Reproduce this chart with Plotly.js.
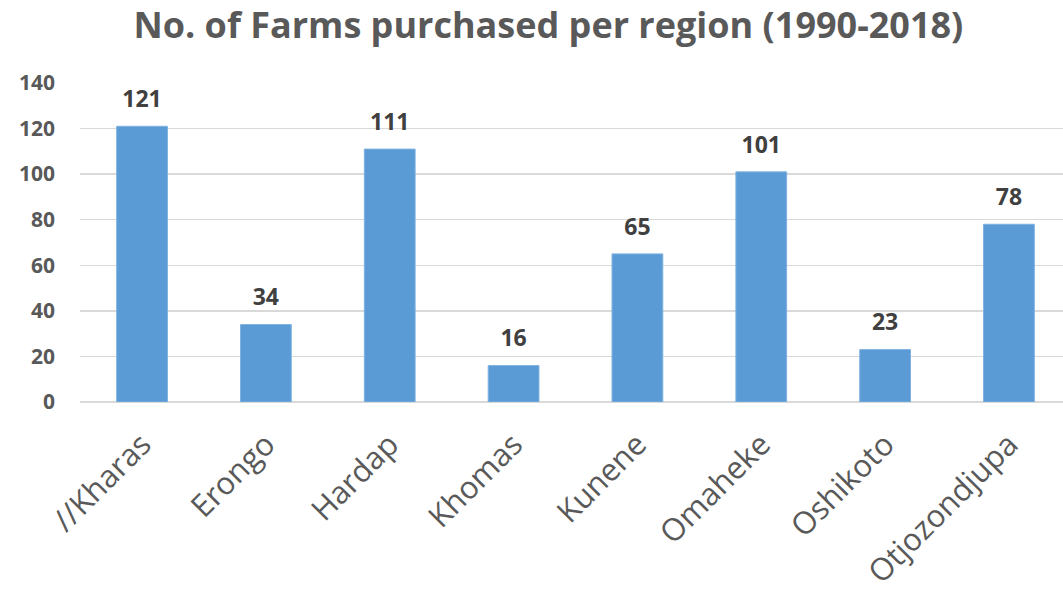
<!DOCTYPE html>
<html>
<head>
<meta charset="utf-8">
<script src="https://cdn.plot.ly/plotly-3.0.1.min.js"></script>
<style>
  html, body { margin: 0; padding: 0; overflow: hidden; background: #fff; }
  #chart { width: 1071px; height: 593px; }
</style>
</head>
<body>
<div id="chart"></div>
<script>
var regions = ['//Kharas', 'Erongo', 'Hardap', 'Khomas', 'Kunene', 'Omaheke', 'Oshikoto', 'Otjozondjupa'];
var farms = [121, 34, 111, 16, 65, 101, 23, 78];

var font = '"Open Sans", "DejaVu Sans", sans-serif';

var bars = {
    type: 'bar',
    x: regions,
    y: farms,
    marker: { color: '#5b9bd5', line: { color: '#7fb2e0', width: 1 } },
    hoverinfo: 'x+y'
};

// labels sit a bit above each bar, like the spreadsheet version
var labels = {
    type: 'scatter',
    mode: 'markers+text',
    x: regions,
    y: farms,
    text: farms.map(String),
    textposition: 'top center',
    marker: { size: 20, opacity: 0 },
    textfont: { family: font, size: 23, color: '#404040', weight: 'bold' },
    cliponaxis: false,
    hoverinfo: 'skip'
};

var layout = {
    width: 1071,
    height: 593,
    margin: { l: 80, r: 0, t: 83, b: 191 },
    showlegend: false,
    bargap: 0.59,
    paper_bgcolor: '#fff',
    plot_bgcolor: '#fff',
    title: {
        text: '<b>No. of Farms purchased per region (1990-2018)</b>',
        font: { family: font, size: 36, color: '#595959' },
        x: 0.512,
        xanchor: 'center',
        y: 0.958,
        yanchor: 'middle'
    },
    xaxis: {
        tickangle: -45,
        tickfont: { family: font, size: 31, color: '#595959' },
        showgrid: false,
        showline: false,
        ticks: '',
        ticklabelstandoff: 17
    },
    yaxis: {
        range: [0, 140],
        dtick: 20,
        tickfont: { family: font, size: 21, color: '#595959', weight: 'bold' },
        gridcolor: '#d9d9d9',
        gridwidth: 1.5,
        zeroline: true,
        zerolinecolor: '#d9d9d9',
        zerolinewidth: 1.5,
        ticks: '',
        ticklabelstandoff: 24
    }
};

Plotly.newPlot('chart', [bars, labels], layout, { displayModeBar: false, staticPlot: true });
</script>
</body>
</html>
